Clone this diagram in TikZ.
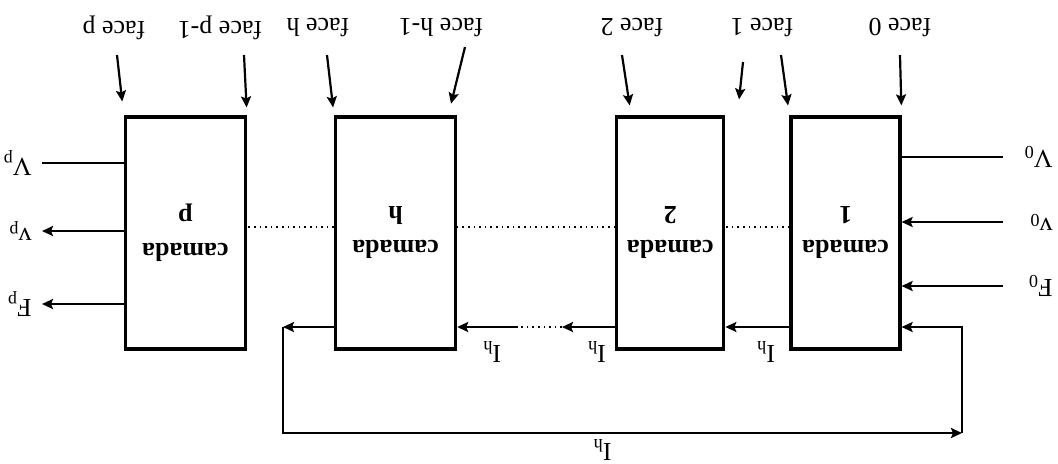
\documentclass[tikz,border=0pt]{standalone}
\usepackage{fontspec}
\setmainfont{Liberation Serif}
\usepackage{tikz}
\usetikzlibrary{positioning,arrows.meta}

\begin{document}
\begin{tikzpicture}[rotate=180, transform shape, x=0.5pt, y=0.5pt,
		font=\fontsize{13}{16}\selectfont,
		camada/.style={draw, line width=1.6pt, minimum height=116pt, align=center,
			font=\fontsize{13}{17}\selectfont\bfseries},
		arr/.style={-{Stealth[length=5.5pt, width=5pt, inset=1pt]}, line width=1.1pt},
		wire/.style={line width=1.1pt},
		dots/.style={dotted, line width=0.8pt},
		lbl/.style={inner sep=1pt}]
		\useasboundingbox (0,0) rectangle (1058,463);
		\node[camada, minimum width=54.5pt] (c1) at (212.5,233) {camada\\1};
		\node[camada, minimum width=53.5pt, right=32pt of c1] (c2) {camada\\2};
		\node[camada, minimum width=60pt, right=79pt of c2] (ch) {camada\\h};
		\node[camada, minimum width=60pt, right=43.5pt of ch] (cp) {camada\\p};
		\coordinate (dl) at (0,227);
		\draw[dots] (c1.east |- dl) -- (c2.west |- dl);
		\draw[dots] (c2.east |- dl) -- (ch.west |- dl);
		\draw[dots] (ch.east |- dl) -- (cp.west |- dl);
		\node (f0) at (158,28) {face 0};
		\node (f1) at (296,28) {face 1};
		\node (f2) at (426,28) {face 2};
		\node (fh1) at (617,28) {face h-1};
		\node (fh) at (740,28) {face h};
		\node (fp1) at (838,28) {face p-1};
		\node (fp) at (944,28) {face p};
		\draw[arr, shorten >=5pt] ([shift={(0,27)}]f0.center) -- (c1.south west);
		\draw[arr, shorten >=5pt] ([shift={(-19,27)}]f1.center) -- (c1.south east);
		\draw[arr, shorten >=8pt] ([shift={(19,34)}]f1.center) -- ([xshift=-6pt]c2.south west);
		\draw[arr, shorten >=5pt] ([shift={(10,27)}]f2.center) -- ([xshift=-8pt]c2.south east);
		\draw[arr, shorten >=6pt] ([shift={(-24,19)}]fh1.center) -- ([xshift=4.5pt]ch.south west);
		\draw[arr, shorten >=4pt] ([shift={(-9,27)}]fh.center) -- (ch.south east);
		\draw[arr, shorten >=4pt] ([shift={(-24,27)}]fp1.center) -- (cp.south west);
		\draw[arr, shorten >=7pt] ([shift={(-3,27)}]fp.center) -- (cp.south east);
		\coordinate (inL) at (55,0);
		\coordinate (outR) at (1016,0);
		\node[lbl, anchor=west] (V0) at (3,157) {V\textsubscript{0}};
		\node[lbl, anchor=west] (v0) at (3,222) {v\textsubscript{0}};
		\node[lbl, anchor=west] (F0) at (3,286) {F\textsubscript{0}};
		\draw[wire] (inL |- V0) -- (c1.west |- V0);
		\draw[arr] (inL |- v0) -- (c1.west |- v0);
		\draw[arr] (inL |- F0) -- (c1.west |- F0);
		\node[lbl, anchor=west] (Vp) at (1024,163) {V\textsubscript{p}};
		\node[lbl, anchor=west] (vp) at (1024,231) {v\textsubscript{p}};
		\node[lbl, anchor=west] (Fp) at (1024,304) {F\textsubscript{p}};
		\draw[wire] (cp.east |- Vp) -- (outR |- Vp);
		\draw[arr] (cp.east |- vp) -- (outR |- vp);
		\draw[arr] (cp.east |- Fp) -- (outR |- Fp);
		\coordinate (ih) at (0,327);
		\coordinate (ihA) at (496,327);
		\coordinate (ihB) at (540,327);
		\coordinate (fbA) at (775,327);
		\coordinate (fbB) at (96,433);
		\draw[arr] (c1.east |- ih) -- node[lbl, pos=0.37, above=5.5pt] {I\textsubscript{h}} (c2.west |- ih);
		\draw[arr] (c2.east |- ih) -- node[lbl, pos=0.35, above=5.5pt] {I\textsubscript{h}} (ihA);
		\draw[dots] (ihA) -- (ihB);
		\draw[arr] (ihB) -- node[lbl, pos=0.43, above=5.5pt] {I\textsubscript{h}} (ch.west |- ih);
		\draw[arr] (ch.east |- ih) -- (fbA);
		\draw[arr] (fbA) -- (fbA |- fbB) -- node[lbl, pos=0.47, above=1.5pt] {I\textsubscript{h}} (fbB);
		\draw[arr] (fbB) -- (fbB |- ih) -- (c1.west |- ih);
	\end{tikzpicture}
\end{document}
